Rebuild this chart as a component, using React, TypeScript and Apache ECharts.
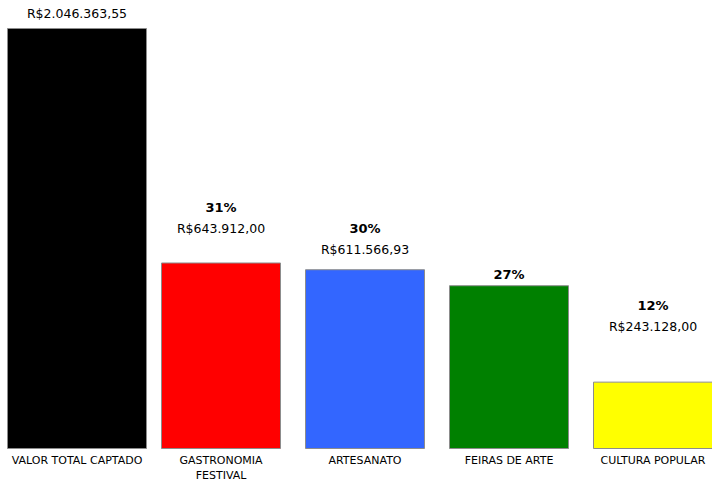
import React, { useEffect, useRef } from "react";
import * as echarts from "echarts";

// Data
const categories = ["VALOR TOTAL CAPTADO", "GASTRONOMIA\nFESTIVAL", "ARTESANATO", "FEIRAS DE ARTE", "CULTURA POPULAR"];
const amountLabels = ["R$2.046.363,55", "R$643.912,00", "R$611.566,93", "", "R$243.128,00"];
const percentLabels = ["", "31%", "30%", "27%", "12%"];
// bar heights as drawn, relative to the tallest bar (= 100)
const barLevels = [100, 44.3, 42.7, 38.9, 16.0];

// styling
const barColors = ["#000000", "#ff0000", "#3366ff", "#008000", "#ffff00"];
const labelDistances = [4, 23, 9, 0, 45];
const FONT = "'DejaVu Sans', sans-serif";

export default function App() {
  const ref = useRef<HTMLDivElement>(null);
  useEffect(() => {
    if (!ref.current) return;
    const chart = echarts.init(ref.current, undefined, { renderer: "svg" });
    const makeItem = (i: number) => {
      const lines: string[] = [];
      if (percentLabels[i]) lines.push("{p|" + percentLabels[i] + "}");
      if (amountLabels[i]) lines.push("{v|" + amountLabels[i] + "}");
      return {
        value: barLevels[i],
        itemStyle: { color: barColors[i], borderColor: "#8c8c8c", borderWidth: 1 },
        label: {
          show: true,
          position: "top",
          distance: labelDistances[i],
          formatter: lines.join("\n"),
          rich: {
            p: { fontFamily: FONT, fontSize: 13, fontWeight: "bold", color: "#000", lineHeight: 21, align: "center" },
            v: { fontFamily: FONT, fontSize: 12.5, color: "#000", lineHeight: 21, align: "center" },
          },
        },
      };
    };
    const first = categories.map((_, i) => (i === 0 ? makeItem(i) : "-"));
    const rest = categories.map((_, i) => (i === 0 ? "-" : makeItem(i)));
    const axisBase = {
      type: "category",
      data: categories,
      axisLine: { show: false },
      axisTick: { show: false },
    };
    chart.setOption({
      animation: false,
      grid: { left: 5, right: 0, top: 28, bottom: 22 },
      xAxis: [
        {
          ...axisBase,
          axisLabel: {
            interval: 0,
            margin: 4,
            color: "#000",
            fontFamily: FONT,
            fontSize: 11,
            lineHeight: 15,
          },
        },
        { ...axisBase, show: false },
      ],
      yAxis: { type: "value", min: 0, max: 100, show: false, splitLine: { show: false } },
      series: [
        { type: "bar", data: first, barWidth: 140, xAxisIndex: 1 },
        { type: "bar", data: rest, barWidth: 120, xAxisIndex: 0 },
      ],
    });
    return () => chart.dispose();
  }, []);
  return (
    <div style={{ position: "fixed", left: 0, top: 0, width: 712, height: 483, overflow: "hidden", background: "#fff" }}>
      <div ref={ref} style={{ width: 725, height: 483 }} />
    </div>
  );
}
